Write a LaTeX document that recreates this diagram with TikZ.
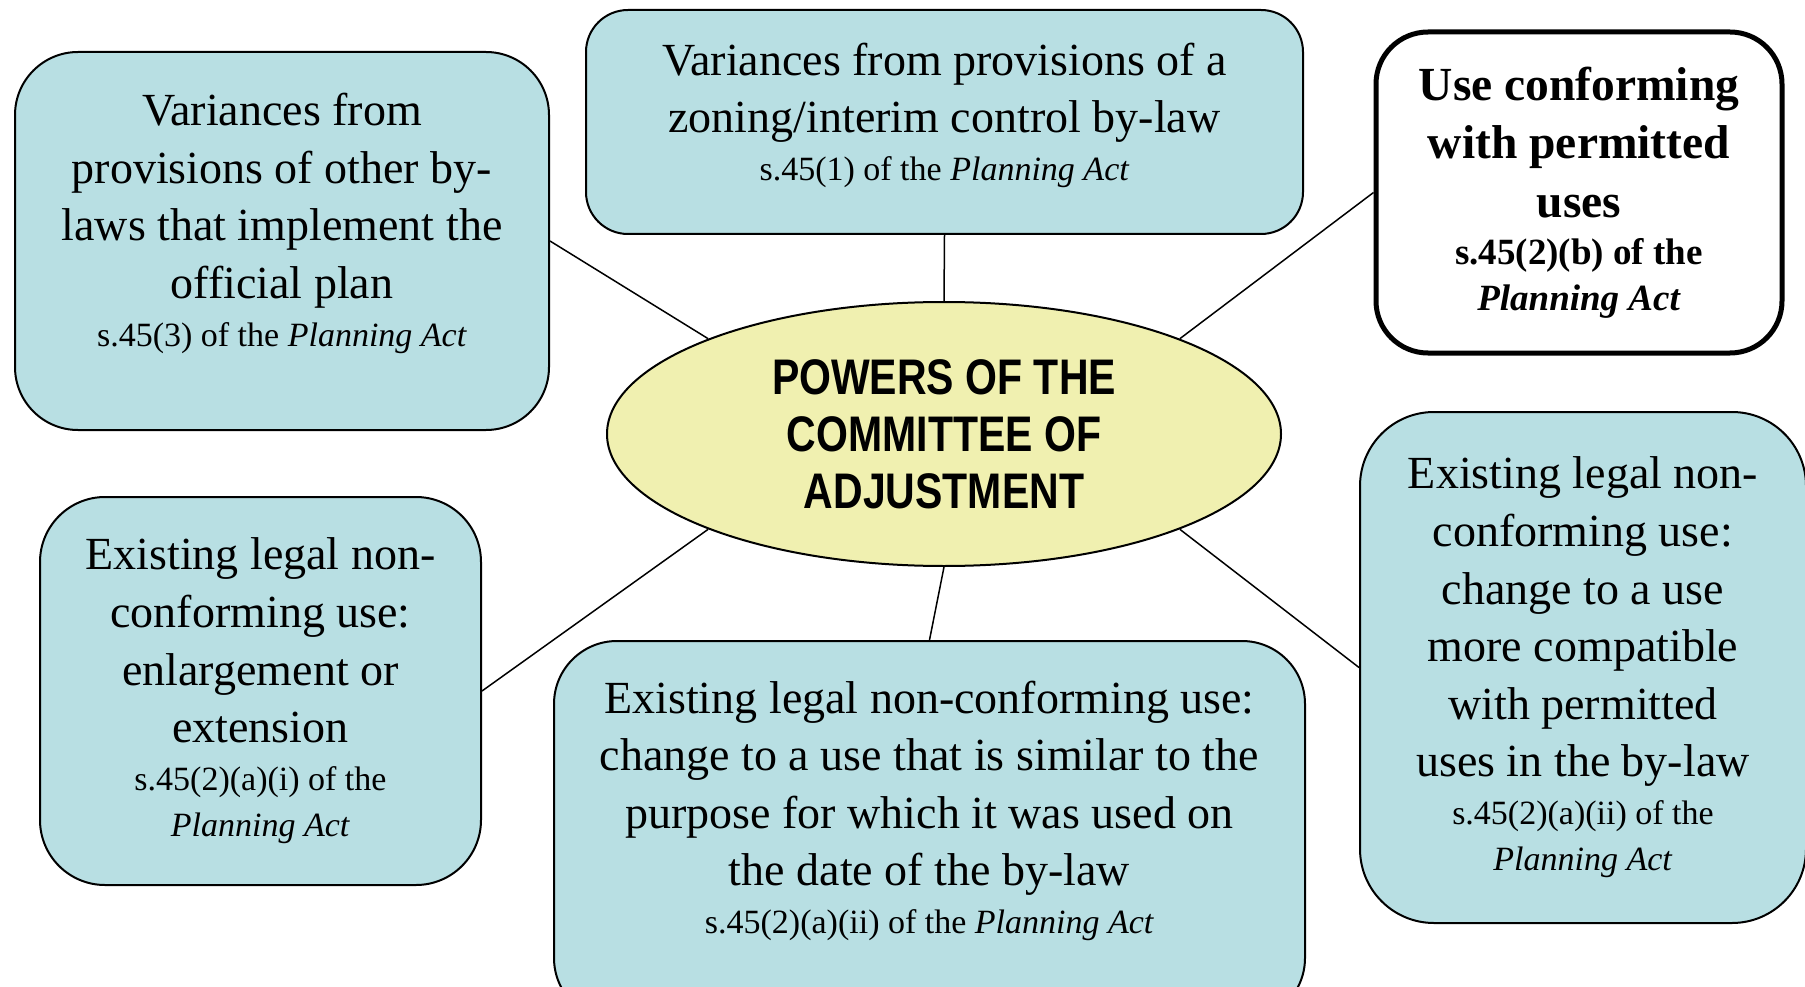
\documentclass[tikz,border=0pt]{standalone}
\usepackage{fontspec}
\setmainfont{Liberation Serif}
\newfontfamily\narrowsans[FakeStretch=0.82]{Liberation Sans}
\usetikzlibrary{shapes.geometric}
\definecolor{boxteal}{RGB}{184,223,227}
\definecolor{hubyellow}{RGB}{240,240,176}
\newcommand{\bodysize}{\fontsize{46}{57.6}\selectfont}
\newcommand{\actref}{\par\vspace{2pt}\fontsize{34}{46}\selectfont}
\newcommand{\padbelow}[1]{\par\vspace{#1}\hrule height 0pt}
\begin{document}
\begin{tikzpicture}[x=1pt, y=-1pt]
    \clip (0,0) rectangle (1805,987);
    \begin{scope}
        \tikzstyle{every node}=[fill=boxteal, draw=black, line width=2pt, align=flush center, inner sep=0pt, font=\bodysize]
        \node[rounded corners=63pt, minimum width=534pt, minimum height=378pt, text width=510pt] (other) at (282,241)
            {Variances from\\ provisions of other by-\\ laws that implement the\\ official plan
             \actref s.45(3) of the \textit{Planning Act}\padbelow{35pt}};
        \node[rounded corners=42pt, minimum width=717pt, minimum height=224pt, text width=690pt] (zoning) at (944.5,122)
            {Variances from provisions of a\\ zoning/interim control by-law
             \actref s.45(1) of the \textit{Planning Act}\padbelow{13pt}};
        \node[rounded corners=52pt, minimum width=406pt, minimum height=321pt, text width=390pt,
              fill=white, line width=5pt, font=\fontsize{47.5}{58.7}\selectfont\bfseries] (conform) at (1579,192.5)
            {Use conforming\\ with permitted\\ uses
             \par\vspace{1pt}\fontsize{37}{46}\selectfont s.45(2)(b) of the\par \textit{Planning Act}\par};
        \node[rounded corners=65pt, minimum width=441pt, minimum height=388pt, text width=420pt] (enlarge) at (260.5,691)
            {Existing legal non-\\ conforming use:\\ enlargement or\\ extension
             \actref s.45(2)(a)(i) of the\par \textit{Planning Act}\par};
        \node[rounded corners=63pt, minimum width=751pt, minimum height=380pt, text width=720pt] (similar) at (929.5,831)
            {Existing legal non-conforming use:\\ change to a use that is similar to the\\ purpose for which it was used on\\ the date of the by-law
             \actref s.45(2)(a)(ii) of the \textit{Planning Act}\padbelow{40pt}};
        \node[rounded corners=74pt, minimum width=446pt, minimum height=511pt, text width=420pt] (compatible) at (1583,667.5)
            {Existing legal non-\\ conforming use:\\ change to a use\\ more compatible\\ with permitted\\ uses in the by-law
             \actref s.45(2)(a)(ii) of the\par \textit{Planning Act}\par};
        \node[ellipse, fill=hubyellow, minimum width=674pt, minimum height=264pt,
              font=\narrowsans\bfseries\fontsize{50}{57}\selectfont] (powers) at (944,434)
            {POWERS OF THE\\ COMMITTEE OF\\ ADJUSTMENT};
    \end{scope}
    \begin{scope}
        \tikzstyle{every edge}=[draw, line width=1.5pt]
        \path
        (other.east) edge (powers.158)
        (zoning.south) edge (powers.90)
        (conform.west) edge (powers.22)
        (enlarge.east) edge (powers.202)
        (similar.north) edge (powers.270)
        (compatible.west) edge (powers.338)
        ;
    \end{scope}
\end{tikzpicture}
\end{document}
